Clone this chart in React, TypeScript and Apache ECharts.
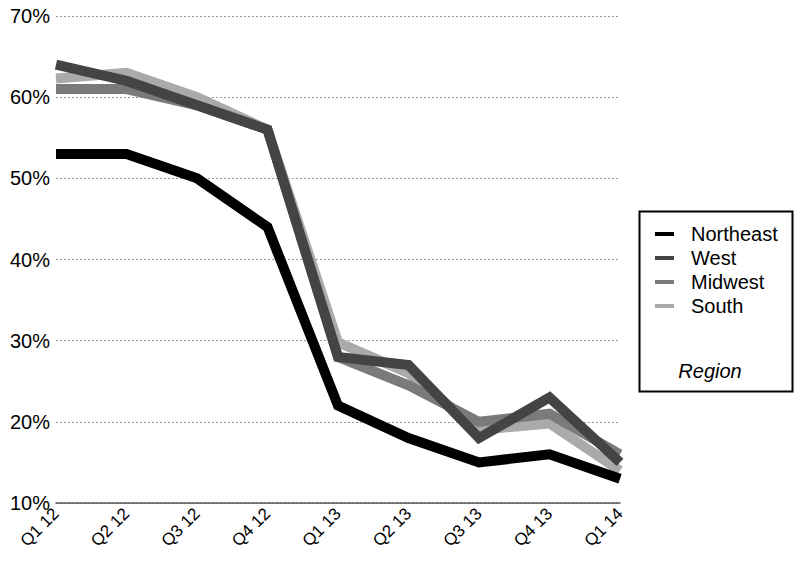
import React, { useEffect, useRef } from "react";
import * as echarts from "echarts";

const categories = ["Q1 12", "Q2 12", "Q3 12", "Q4 12", "Q1 13", "Q2 13", "Q3 13", "Q4 13", "Q1 14"];
const northeast = [53, 53, 50, 44, 22, 18, 15, 16, 13];
const west = [64, 62, 59, 56, 28, 27, 18, 23, 15];
const midwest = [61, 61, 59, 56, 28, 24.5, 20, 21, 16];
const south = [62.3, 63, 60, 56, 29.8, 26, 19, 19.8, 14];
const yTicks = { min: 10, max: 70, interval: 10 };
const regionNames = ["Northeast", "West", "Midwest", "South"];
const regionColors = ["#000000", "#444444", "#7a7a7a", "#aaaaaa"];

const FONT = "'Liberation Sans', Arial, Helvetica, sans-serif";

export default function App() {
  const ref = useRef<HTMLDivElement>(null);
  useEffect(() => {
    if (!ref.current) return;
    const chart = echarts.init(ref.current, undefined, { renderer: "svg" });
    const dataMap: Record<string, number[]> = {
      Northeast: northeast,
      West: west,
      Midwest: midwest,
      South: south,
    };
    const series = regionNames.map((name, i) => ({
      name,
      type: "line",
      data: dataMap[name],
      color: regionColors[i],
      showSymbol: false,
      symbol: "none",
      clip: false,
      z: 10 - i,
      lineStyle: { width: 10, color: regionColors[i], cap: "butt", join: "miter" },
    }));
    chart.setOption({
      animation: false,
      backgroundColor: "#ffffff",
      textStyle: { fontFamily: FONT },
      grid: { left: 56, right: 180, top: 16, bottom: 61 },
      xAxis: {
        type: "category",
        data: categories,
        boundaryGap: false,
        axisLine: { show: true, lineStyle: { color: "#555555", width: 1.5 } },
        axisTick: { show: false },
        axisLabel: { rotate: 45, fontSize: 17, color: "#000", margin: 8, fontFamily: FONT },
        splitLine: { show: false },
      },
      yAxis: {
        type: "value",
        min: yTicks.min,
        max: yTicks.max,
        interval: yTicks.interval,
        axisLine: { show: false },
        axisTick: { show: false },
        axisLabel: { formatter: "{value}%", fontSize: 20, color: "#000", margin: 6, fontFamily: FONT },
        splitLine: { show: true, lineStyle: { color: "#999999", type: [2, 2], width: 1 } },
      },
      legend: {
        data: regionNames,
        orient: "vertical",
        left: 650,
        top: 219,
        icon: "rect",
        itemWidth: 19,
        itemHeight: 4,
        itemGap: 4,
        textStyle: { fontSize: 20, color: "#000", lineHeight: 20, padding: [0, 0, 0, 12], fontFamily: FONT },
        selectedMode: false,
      },
      graphic: [
        {
          type: "rect",
          shape: { x: 639.5, y: 211.5, width: 153, height: 180 },
          style: { fill: "none", stroke: "#000", lineWidth: 2 },
          silent: true,
        },
        {
          type: "text",
          x: 710,
          y: 371,
          style: {
            text: "Region",
            fontSize: 20,
            fontStyle: "italic",
            fontFamily: FONT,
            fill: "#000",
            align: "center",
            verticalAlign: "middle",
          },
        },
      ],
      series,
    });
    return () => chart.dispose();
  }, []);
  return <div ref={ref} style={{ width: 800, height: 564, position: "absolute", left: 0, top: 0 }} />;
}
